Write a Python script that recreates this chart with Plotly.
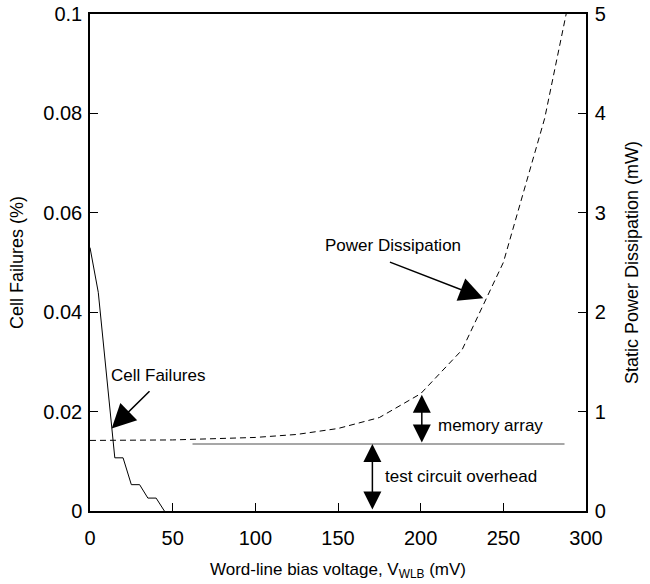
import plotly.graph_objects as go

# ---- data ----
voltage_cf = [0, 5, 15, 20, 25, 30, 35, 40, 45]
cell_failures = [0.053, 0.044, 0.0107, 0.0107, 0.0053, 0.0053, 0.0026, 0.0026, 0.0]

voltage_pd = [0, 50, 100, 125, 150, 175, 200, 225, 250, 275, 288]
power_mw = [0.71, 0.715, 0.74, 0.77, 0.83, 0.94, 1.18, 1.62, 2.5, 3.95, 5.0]

overhead_x = [62, 287]
overhead_y = [0.675, 0.675]

x_ticks = [0, 50, 100, 150, 200, 250, 300]
y_ticks = [0, 0.02, 0.04, 0.06, 0.08, 0.1]
y_tick_text = ["0", "0.02", "0.04", "0.06", "0.08", "0.1"]
y2_ticks = [0, 1, 2, 3, 4, 5]

FONT = "Liberation Sans, Arial, Helvetica, sans-serif"

fig = go.Figure()
fig.add_trace(go.Scatter(x=voltage_cf, y=cell_failures, mode="lines",
                         line=dict(color="black", width=1), yaxis="y",
                         showlegend=False, hoverinfo="skip"))
fig.add_trace(go.Scatter(x=overhead_x, y=overhead_y, mode="lines",
                         line=dict(color="#8a8a8a", width=1.5), yaxis="y2",
                         showlegend=False, hoverinfo="skip"))
fig.add_trace(go.Scatter(x=voltage_pd, y=power_mw, mode="lines",
                         line=dict(color="black", width=1, dash="6px,4px"), yaxis="y2",
                         showlegend=False, hoverinfo="skip"))

tf = dict(size=17, family=FONT, color="black")
annotations = []
annotations.append(dict(x=41.1, y=0.0272, xref="x", yref="y", text="Cell Failures",
                        showarrow=False, font=tf))
annotations.append(dict(x=183.4, y=2.67, xref="x", yref="y2", text="Power Dissipation",
                        showarrow=False, font=tf))
annotations.append(dict(x=242.3, y=0.865, xref="x", yref="y2", text="memory array",
                        showarrow=False, font=tf))
annotations.append(dict(x=224.1, y=0.345, xref="x", yref="y2", text="test circuit overhead",
                        showarrow=False, font=tf))
# single arrows
annotations.append(dict(x=13.1, y=0.0166, xref="x", yref="y", ax=36.9, ay=0.0244,
                        axref="x", ayref="y", text="", showarrow=True,
                        arrowhead=2, arrowsize=3.2, arrowwidth=1.5, arrowcolor="black"))
annotations.append(dict(x=237.9, y=2.14, xref="x", yref="y2", ax=180.5, ay=2.51,
                        axref="x", ayref="y2", text="", showarrow=True,
                        arrowhead=2, arrowsize=3.2, arrowwidth=1.5, arrowcolor="black"))
# double arrows
annotations.append(dict(x=200.7, y=1.17, xref="x", yref="y2", ax=200.7, ay=0.675,
                        axref="x", ayref="y2", text="", showarrow=True,
                        arrowhead=2, startarrowhead=2, arrowside="end+start",
                        arrowsize=2.4, startarrowsize=2.4, arrowwidth=1.5, arrowcolor="black"))
annotations.append(dict(x=170.8, y=0.675, xref="x", yref="y2", ax=170.8, ay=0.0,
                        axref="x", ayref="y2", text="", showarrow=True,
                        arrowhead=2, startarrowhead=2, arrowside="end+start",
                        arrowsize=2.4, startarrowsize=2.4, arrowwidth=1.5, arrowcolor="black"))

fig.update_layout(
    width=650, height=584,
    margin=dict(l=90, r=64, t=14, b=73),
    paper_bgcolor="white", plot_bgcolor="white",
    font=dict(family=FONT, color="black"),
    showlegend=False,
    annotations=annotations,
    xaxis=dict(range=[0, 300], tickvals=x_ticks, ticks="inside", ticklen=8,
               tickcolor="black", showline=True, linecolor="black", linewidth=1.5,
               mirror=True, showgrid=False, zeroline=False, automargin=False,
               ticklabelstandoff=8, ticklabeloverflow="allow",
               tickfont=dict(size=20, family=FONT),
               title=dict(text="Word-line bias voltage, V<sub>WLB</sub> (mV)",
                          font=dict(size=17, family=FONT), standoff=15)),
    yaxis=dict(range=[0, 0.1], tickvals=y_ticks, ticktext=y_tick_text,
               ticks="inside", ticklen=8, automargin=False, ticklabelstandoff=2,
               ticklabeloverflow="allow",
               tickcolor="black", showline=True, linecolor="black", linewidth=1.5,
               showgrid=False, zeroline=False,
               tickfont=dict(size=20, family=FONT),
               title=dict(text="Cell Failures (%)", font=dict(size=18, family=FONT), standoff=15)),
    yaxis2=dict(range=[0, 5], tickvals=y2_ticks, overlaying="y", side="right",
                ticks="inside", ticklen=8, automargin=False, ticklabelstandoff=3,
                ticklabeloverflow="allow",
                tickcolor="black", showline=True, linecolor="black", linewidth=1.5,
                showgrid=False, zeroline=False,
                tickfont=dict(size=20, family=FONT),
                title=dict(text="Static Power Dissipation (mW)", font=dict(size=18, family=FONT), standoff=21)),
)

# remove the browser's default 8px body margin so the figure sits at the page origin
fig.write_html("out.html", config={"displayModeBar": False},
               post_script="document.body.style.margin='0';")
